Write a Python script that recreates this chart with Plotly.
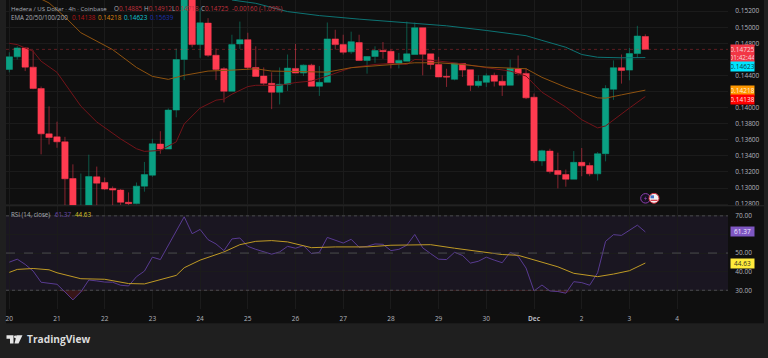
import plotly.graph_objects as go

W, H = 768, 358

opens = [.14476,.14632,.14743,.14504,.14238,.13674,.13637,.13575,.13119,.12640,
 .12700,.13140,.13070,.12996,.12975,.12823,.12807,.13024,.13160,.13547,
 .13485,.13970,.14599,.15438,.14784,.15052,.14652,.14484,.14204,.14793,
 .14846,.14500,.14393,.14303,.14192,.14291,.14488,.14430,.14529,.14266,
 .14315,.14855,.14784,.14694,.14809,.14587,.14636,.14710,.14701,.14550,
 .14578,.14661,.14994,.14669,.14537,.14389,.14352,.14550,.14472,.14275,
 .14315,.14402,.14328,.14278,.14480,.14426,.14130,.13337,.13460,.13218,
 .13168,.13110,.13320,.13280,.13177,.13427,.14229,.14497,.14467,.14673,.14885]
closes = [.14632,.14743,.14504,.14238,.13674,.13628,.13575,.13115,.12640,.12700,
 .13144,.13061,.12987,.12975,.12823,.12807,.13024,.13168,.13551,.13485,
 .13970,.14599,.15438,.14784,.15055,.14652,.14476,.14204,.14784,.14846,
 .14500,.14389,.14303,.14192,.14291,.14492,.14430,.14529,.14266,.14315,
 .14855,.14784,.14689,.14821,.14587,.14636,.14710,.14698,.14550,.14587,
 .14669,.14994,.14664,.14537,.14381,.14381,.14553,.14467,.14278,.14328,
 .14398,.14328,.14278,.14488,.14426,.14122,.13341,.13464,.13205,.13168,
 .13110,.13320,.13276,.13177,.13427,.14238,.14497,.14463,.14673,.14891,.14725]
highs = [.14689,.14763,.14750,.14713,.14263,.14016,.13826,.13637,.13295,.13181,
 .13415,.13267,.13131,.13020,.12987,.12946,.13069,.13325,.13612,.13707,
 .13991,.14735,.15500,.15470,.15237,.15113,.14735,.14504,.14907,.15071,
 .14932,.14763,.14500,.14439,.14500,.14661,.14793,.14537,.14546,.14517,
 .15059,.14969,.14907,.14945,.14907,.14636,.14763,.14817,.14722,.14681,
 .15071,.15059,.14994,.14669,.14632,.14484,.14558,.14550,.14472,.14402,
 .14426,.14435,.14402,.14599,.14649,.14492,.14176,.13477,.13489,.13440,
 .13230,.13460,.13498,.13317,.13448,.14279,.14587,.14661,.14743,.15018,.14912]
lows = [.14439,.14599,.14455,.14229,.13419,.13542,.13501,.12700,.12550,.12600,
 .12650,.12700,.12975,.12749,.12790,.12790,.12798,.12955,.13140,.13427,
 .13485,.13880,.14343,.14750,.14620,.14632,.14343,.14065,.14204,.14731,
 .14476,.14389,.14278,.13982,.14040,.14208,.14430,.14393,.14266,.14146,
 .14315,.14722,.14661,.14669,.14587,.14423,.14558,.14608,.14488,.14488,
 .14578,.14661,.14402,.14476,.14381,.14258,.14340,.14381,.14208,.14250,
 .14258,.14263,.14146,.14278,.14402,.14106,.13313,.13276,.13181,.12996,
 .13017,.13110,.13147,.13147,.13094,.13332,.14097,.14299,.14340,.14620,.14718]

ema20_bar = [0,1,3,4,6,8,9,11,14,16,17,19,21,22,24,26,27,28,30,31,34,36,38,40,43,46,48,50,51,53,56,60,63,65,67,70,72,74,75,78,80]
ema20 = [.14800,.14784,.14701,.14578,.14439,.14167,.14019,.13822,.13612,.13489,.13456,.13468,.13575,.13797,.13995,.14093,.14106,.14167,.14262,.14278,.14278,.14312,.14331,.14393,.14497,.14537,.14550,.14537,.14599,.14590,.14558,.14497,.14455,.14393,.14192,.14007,.13850,.13748,.13773,.13995,.14138]
ema50_bar = [4,5,7,9,13,16,18,20,22,25,28,31,33,40,43,48,51,54,57,60,63,65,67,70,74,75,77,80]
ema50 = [.15351,.15302,.15129,.14932,.14722,.14500,.14389,.14352,.14402,.14455,.14467,.14484,.14455,.14442,.14497,.14537,.14558,.14558,.14537,.14504,.14488,.14484,.14377,.14254,.14122,.14118,.14159,.14218]
ema100_bar = [28,31,35,39,44,49,55,60,63,65,67,70,72,74,77,80]
ema100 = [.15339,.15298,.15195,.15145,.15101,.15064,.15018,.14960,.14920,.14895,.14837,.14751,.14661,.14627,.14620,.14623]

rsi = [45.1,46.7,43.9,40.3,34.3,33.9,33.2,29.1,24.8,29.1,35.5,35.0,34.4,34.3,32.7,32.3,37.3,40.3,47.8,46.5,
 54.2,62.0,69.5,60.4,62.7,57.2,54.9,51.3,57.6,58.1,53.6,52.0,50.8,49.4,50.6,53.6,52.6,54.0,49.7,50.4,
 58.4,57.0,55.4,57.4,53.1,53.6,54.9,54.7,51.3,52.0,54.2,60.0,52.8,49.7,46.7,46.5,50.4,48.7,44.6,45.6,
 47.8,46.2,44.8,50.4,48.3,41.9,29.6,32.8,29.6,29.3,28.4,34.6,34.1,32.7,39.4,56.3,59.9,59.5,62.4,65.0,61.37]
rsi_ma_bar = [0,1,3,5,6,9,12,15,17,19,21,22,24,27,29,31,33,35,37,38,41,45,48,51,53,56,60,62,64,66,69,71,74,76,78,80]
rsi_ma = [39.6,41.2,41.7,41.0,39.4,36.2,35.9,33.6,33.4,35.5,38.0,42.1,46.2,50.6,54.5,56.3,56.7,56.0,54.2,52.9,53.3,53.3,54.2,54.2,54.5,52.6,50.6,49.2,48.8,46.2,42.6,39.1,37.3,38.7,40.5,44.63]

day_ticks = [0,6,12,18,24,30,36,42,48,54,60,66,72,78,84]
day_labels = ["20","21","22","23","24","25","26","27","28","29","30","<b>Dec</b>","2","3","4"]
price_ticks = [.128,.130,.132,.134,.136,.138,.140,.142,.144,.146,.148,.150,.152]
price_labels = ["0.12800","0.13000","0.13200","0.13400","0.13600","0.13800","0.14000","","0.14400","","0.14800","0.15000","0.15200"]
rsi_ticks = [30,40,50,60,70]
rsi_labels = ["30.00","40.00","50.00","","70.00"]

last_price, ema20_last, ema50_last, ema100_last, ema200_last = .14725, .14138, .14218, .14623, .15639
rsi_last, rsi_ma_last = 61.37, 44.63

FONT = "Open Sans"
UP, DOWN = "#0aa083", "#ff3b50"
BG, PANE, GRID = "#1f1f1f", "#0f0f0f", "#1b1b1b"
FS = 6.5
bars = list(range(len(opens)))

def px(x): return x / W
def py(y): return 1 - y / H

fig = go.Figure()
fig.add_trace(go.Candlestick(x=bars, open=opens, high=highs, low=lows, close=closes,
    xaxis="x", yaxis="y", whiskerwidth=0, showlegend=False,
    increasing=dict(line=dict(color=UP, width=0.5), fillcolor=UP),
    decreasing=dict(line=dict(color=DOWN, width=0.5), fillcolor=DOWN)))
for bx, vals, col in [(ema20_bar, ema20, "#74141a"), (ema50_bar, ema50, "#8f5310"), (ema100_bar, ema100, "#0d7474")]:
    fig.add_trace(go.Scatter(x=bx, y=vals, mode="lines", line=dict(color=col, width=1),
                             xaxis="x", yaxis="y", showlegend=False))

fig.add_trace(go.Scatter(x=bars, y=[30]*len(bars), mode="lines", line=dict(width=0),
                         xaxis="x2", yaxis="y2", showlegend=False))
fig.add_trace(go.Scatter(x=bars, y=[min(v, 30) for v in rsi], mode="lines", line=dict(width=0),
                         fill="tonexty", fillcolor="rgba(242,54,69,0.18)",
                         xaxis="x2", yaxis="y2", showlegend=False))
fig.add_trace(go.Scatter(x=bars, y=rsi, mode="lines", line=dict(color="#60409e", width=0.9),
                         xaxis="x2", yaxis="y2", showlegend=False))
fig.add_trace(go.Scatter(x=rsi_ma_bar, y=rsi_ma, mode="lines", line=dict(color="#bf9a25", width=1),
                         xaxis="x2", yaxis="y2", showlegend=False))

shapes = [
    dict(type="rect", xref="paper", yref="paper", x0=px(6), x1=px(764), y0=py(326), y1=1,
         fillcolor=PANE, line_width=0, layer="below"),
    dict(type="rect", xref="x2", yref="y2", x0=-1, x1=91, y0=30, y1=70,
         fillcolor="rgba(126,87,194,0.10)", line_width=0, layer="below"),
    dict(type="line", xref="paper", yref="paper", x0=px(6), x1=px(764), y0=py(207.5), y1=py(207.5),
         line=dict(color="#2a2a2a", width=1)),
    dict(type="line", xref="paper", yref="y", x0=px(6), x1=px(728), y0=last_price, y1=last_price,
         line=dict(color="rgba(242,54,69,0.35)", width=1, dash="dot")),
]
for lvl, dash in [(70, "dot"), (50, "dash"), (30, "dot")]:
    shapes.append(dict(type="line", xref="paper", yref="y2", x0=px(6), x1=px(728), y0=lvl, y1=lvl,
                       line=dict(color="#4a4a4f", width=1, dash=dash)))

def P(pts):
    return "M" + " L".join(f"{px(a):.5f},{py(b):.5f}" for a, b in pts) + " Z"
for pts in ([(6.5,338),(13.5,338),(13.5,346.5),(10,346.5),(10,341.5),(6.5,341.5)],
            [(16.5,338),(22.5,338),(18.5,346.5),(14.5,346.5)]):
    shapes.append(dict(type="path", xref="paper", yref="paper", path=P(pts), fillcolor="#e6e6e6", line_width=0))
shapes.append(dict(type="circle", xref="paper", yref="paper", x0=px(14), x1=px(16.6), y0=py(341), y1=py(338.4),
                   fillcolor="#e6e6e6", line_width=0))

def circ(cx, cy, r, fill, lc):
    return dict(type="circle", xref="paper", yref="paper", x0=px(cx-r), x1=px(cx+r), y0=py(cy+r), y1=py(cy-r),
                fillcolor=fill, line=dict(color=lc, width=1))
shapes.append(circ(645.5, 200, 4.8, "#16101f", "#8e3fb0"))
shapes.append(dict(type="path", xref="paper", yref="paper",
                   path=P([(646.5,197.5),(644,200.5),(645.6,200.5),(644.6,202.6),(647,199.6),(645.4,199.6)]),
                   fillcolor="#8e3fb0", line_width=0))
shapes.append(circ(654, 200, 5, "#f0f0f0", "#d32f3f"))
shapes.append(dict(type="rect", xref="paper", yref="paper", x0=px(650.5), x1=px(654), y0=py(200), y1=py(197),
                   fillcolor="#3f6fc4", line_width=0))
shapes.append(dict(type="rect", xref="paper", yref="paper", x0=px(650.5), x1=px(657.5), y0=py(202.6), y1=py(201.4),
                   fillcolor="#d32f3f", line_width=0))

def label(x, y, text, color="#a9acb5", size=FS):
    return dict(xref="paper", yref="paper", x=px(x), y=py(y), text=text, showarrow=False, xanchor="left",
                yanchor="middle", borderpad=0, font=dict(family=FONT, size=size, color=color))

def badge(val, yref, text, fill, color, h=8.7, shift=0):
    return dict(xref="paper", yref=yref, x=px(730), y=val, yshift=shift, text=text, showarrow=False,
                xanchor="left", yanchor="middle", width=23, height=h, bgcolor=fill, borderpad=0, align="center",
                font=dict(family=FONT, size=FS, color=color))

TR = "#c0303e"
def ohlc(letter, v):
    return f'{letter}<span style="color:{TR}">{v:.5f}</span>'
annotations = [
    label(10, 8.4, "Hedera / US Dollar · 4h · Coinbase", size=6.1),
    label(113, 8.4, ohlc("O", opens[-1]), size=6.3),
    label(142.5, 8.4, ohlc("H", highs[-1]), size=6.3),
    label(171, 8.4, ohlc("L", lows[-1]), size=6.3),
    label(200, 8.4, ohlc("C", closes[-1]), size=6.3),
    label(231, 8.4, f"{closes[-1]-opens[-1]:.5f} (-1.09%)", TR, size=6.3),
    label(10, 17.7, "EMA 20/50/100/200", size=6.2),
    label(71, 17.7, f"{ema20_last:.5f}", "#b81414", size=6.3),
    label(97, 17.7, f"{ema50_last:.5f}", "#d9820f", size=6.3),
    label(123, 17.7, f"{ema100_last:.5f}", "#10c8d8", size=6.3),
    label(149, 17.7, f"{ema200_last:.5f}", "#1a2fb0", size=6.3),
    label(10, 216, "RSI (14, close)", size=6.2),
    label(54, 216, f"{rsi_last:.2f}", "#6a46ab", size=6.3),
    label(74, 216, f"{rsi_ma_last:.2f}", "#d9c22a", size=6.3),
    label(25.5, 342.3, "<b>TradingView</b>", "#dcdcdc", 10.2),
    badge(last_price, "y", f"{last_price:.5f}<br>01:42:44", "#f23645", "#f6d5d8", h=17, shift=-3.8),
    badge(ema100_last, "y", f"{ema100_last:.5f}", "#00e5ff", "#0d3a44", shift=-8.6),
    badge(ema50_last, "y", f"{ema50_last:.5f}", "#ff9800", "#fff0d8", shift=-0.8),
    badge(ema20_last, "y", f"{ema20_last:.5f}", "#ff0000", "#ffe0e0", shift=-3.3),
    badge(rsi_last, "y2", f"{rsi_last:.2f}", "#7e57c2", "#f0eaff"),
    badge(rsi_ma_last, "y2", f"{rsi_ma_last:.2f}", "#ffeb3b", "#333020"),
]

xr = [-0.415, 90.4]
xcommon = dict(range=xr, tickmode="array", tickvals=day_ticks, showgrid=True, gridcolor=GRID, gridwidth=1,
               zeroline=False, showline=False, domain=[px(6), px(728)], fixedrange=True)
ycommon = dict(side="right", showgrid=True, gridcolor=GRID, gridwidth=1, zeroline=False, showline=False,
               tickmode="array", ticks="outside", ticklen=5, tickcolor="rgba(0,0,0,0)",
               tickfont=dict(family=FONT, size=FS, color="#b2b5be"), fixedrange=True)
fig.update_layout(
    width=W, height=H, margin=dict(l=0, r=0, t=0, b=0), autosize=False,
    paper_bgcolor=BG, plot_bgcolor=PANE, showlegend=False, boxgap=0.2, boxgroupgap=0, hovermode=False,
    xaxis=dict(**xcommon, anchor="y", showticklabels=False, rangeslider=dict(visible=False)),
    xaxis2=dict(**xcommon, anchor="y2", matches="x", ticktext=day_labels, ticks="outside", ticklen=3,
                tickcolor="rgba(0,0,0,0)", tickfont=dict(family=FONT, size=FS, color="#b2b5be")),
    yaxis=dict(**ycommon, anchor="x", domain=[py(207), 1], range=[.12786, .15339], tickvals=price_ticks, ticktext=price_labels),
    yaxis2=dict(**ycommon, anchor="x2", domain=[py(312), py(208)], range=[19.7, 75.17], tickvals=rsi_ticks, ticktext=rsi_labels),
    shapes=shapes, annotations=annotations,
)
fig.write_html("out.html", config=dict(displayModeBar=False),
               post_script="document.body.style.margin='0';document.body.style.overflow='hidden';")
